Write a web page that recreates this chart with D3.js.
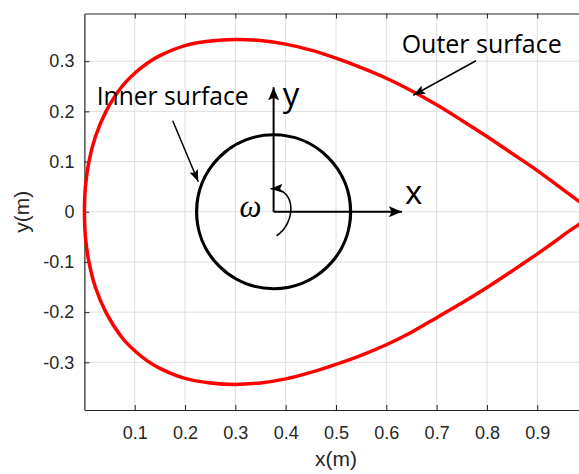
<!DOCTYPE html>
<html>
<head>
<meta charset="utf-8">
<script src="https://cdn.jsdelivr.net/npm/d3@7"></script>
<style>
  html, body { margin: 0; padding: 0; background: #fff; }
  svg { display: block; }
  .tick text { font-family: "Liberation Sans", Arial, sans-serif; font-size: 18px; fill: #262626; }
  .note { font-family: "Open Sans", sans-serif; fill: #000; }
</style>
</head>
<body>
<svg id="chart" width="579" height="474"></svg>
<script>
// axis ticks
const xTickValues = [0.1, 0.2, 0.3, 0.4, 0.5, 0.6, 0.7, 0.8, 0.9];
const xTickLabels = ['0.1', '0.2', '0.3', '0.4', '0.5', '0.6', '0.7', '0.8', '0.9'];
const yTickValues = [-0.3, -0.2, -0.1, 0, 0.1, 0.2, 0.3];
const yTickLabels = ['-0.3', '-0.2', '-0.1', '0', '0.1', '0.2', '0.3'];

// outer surface: upper branch left -> tip
const outerUpper = [
  [0.000, 0.000], [0.002, 0.050], [0.009, 0.100], [0.022, 0.150], [0.043, 0.200],
  [0.075, 0.250], [0.100, 0.276], [0.125, 0.296], [0.150, 0.311], [0.200, 0.331],
  [0.250, 0.340], [0.300, 0.343], [0.350, 0.341], [0.400, 0.334], [0.450, 0.322],
  [0.500, 0.306], [0.550, 0.287], [0.600, 0.266], [0.650, 0.241], [0.700, 0.213],
  [0.750, 0.182], [0.800, 0.150], [0.850, 0.116], [0.900, 0.082], [0.950, 0.045],
  [1.000, 0.008], [1.010, 0.000]
];
// lower branch tip -> left
const outerLower = [
  [1.000, -0.010], [0.950, -0.048], [0.900, -0.084], [0.850, -0.118], [0.800, -0.151],
  [0.750, -0.182], [0.700, -0.211], [0.650, -0.240], [0.600, -0.265], [0.550, -0.286],
  [0.500, -0.304], [0.450, -0.320], [0.400, -0.333], [0.350, -0.341], [0.300, -0.344],
  [0.250, -0.341], [0.200, -0.332], [0.150, -0.312], [0.125, -0.297], [0.100, -0.277],
  [0.075, -0.251], [0.043, -0.201], [0.022, -0.151], [0.009, -0.100], [0.002, -0.050],
  [0.000, 0.000]
];

// inner surface circle
const innerCenter = [0.376, 0];
const innerRadius = 0.153;

const svg = d3.select('#chart');
const plotLeft = 84.4, plotRight = 587.6, plotTop = 13.5, plotBottom = 410;

const x = d3.scaleLinear().domain([0, 1]).range([plotLeft, plotRight]);
const y = d3.scaleLinear().domain([-0.395, 0.395]).range([plotBottom, plotTop]);

const defs = svg.append('defs');

// arrow heads
function arrowMarker(id, len, wid) {
  defs.append('marker')
    .attr('id', id)
    .attr('markerUnits', 'userSpaceOnUse')
    .attr('markerWidth', len).attr('markerHeight', wid)
    .attr('refX', len).attr('refY', wid / 2)
    .attr('orient', 'auto')
    .append('path')
    .attr('d', `M0,0 L${len},${wid / 2} L0,${wid} L${len * 0.2},${wid / 2} Z`)
    .attr('fill', '#000');
}
arrowMarker('headBig', 13, 11);
arrowMarker('headSmall', 12, 9);

// grid
const grid = svg.append('g');
grid.selectAll('.gx').data(xTickValues).enter().append('line')
  .attr('x1', d => x(d)).attr('x2', d => x(d))
  .attr('y1', plotTop).attr('y2', plotBottom)
  .attr('stroke', '#dfdfdf').attr('stroke-width', 1);
grid.selectAll('.gy').data(yTickValues).enter().append('line')
  .attr('x1', plotLeft).attr('x2', plotRight)
  .attr('y1', d => y(d)).attr('y2', d => y(d))
  .attr('stroke', '#dfdfdf').attr('stroke-width', 1);

// axes
const axisColor = '#262626';
const xAxis = svg.append('g').attr('transform', `translate(0,${plotBottom})`)
  .call(d3.axisBottom(x).tickValues(xTickValues)
    .tickFormat((d, i) => xTickLabels[i])
    .tickSizeInner(-5).tickSizeOuter(0).tickPadding(16));
const topAxis = svg.append('g').attr('transform', `translate(0,${plotTop})`)
  .call(d3.axisTop(x).tickValues(xTickValues).tickFormat('')
    .tickSizeInner(-5).tickSizeOuter(0));
const yAxis = svg.append('g').attr('transform', `translate(${plotLeft},0)`)
  .call(d3.axisLeft(y).tickValues(yTickValues)
    .tickFormat((d, i) => yTickLabels[i])
    .tickSizeInner(-5).tickSizeOuter(0).tickPadding(10));
[xAxis, topAxis, yAxis].forEach(g => {
  g.selectAll('.domain').attr('stroke', axisColor).attr('stroke-width', 1.2);
  g.selectAll('.tick line').attr('stroke', axisColor).attr('stroke-width', 1);
});

svg.append('text')
  .attr('x', x(0.5)).attr('y', 465.5)
  .attr('text-anchor', 'middle')
  .style('font-family', '"Liberation Sans", Arial, sans-serif')
  .style('font-size', '21px').style('fill', axisColor)
  .text('x(m)');
svg.append('text')
  .attr('transform', `translate(29,${y(0)}) rotate(-90)`)
  .attr('text-anchor', 'middle')
  .style('font-family', '"Liberation Sans", Arial, sans-serif')
  .style('font-size', '21px').style('fill', axisColor)
  .text('y(m)');

// outer surface
const line = d3.line()
  .x(d => x(d[0])).y(d => y(d[1]))
  .curve(d3.curveCatmullRom.alpha(0.5));
svg.append('path')
  .datum(outerUpper.concat(outerLower.slice(1)))
  .attr('d', line)
  .attr('fill', 'none')
  .attr('stroke', '#ff0000')
  .attr('stroke-width', 3.5)
  .attr('stroke-linejoin', 'round');

// inner surface
svg.append('circle')
  .attr('cx', x(innerCenter[0])).attr('cy', y(innerCenter[1]))
  .attr('r', x(innerRadius) - x(0))
  .attr('fill', 'none')
  .attr('stroke', '#000')
  .attr('stroke-width', 3.2);

// body frame arrows
const cx = x(innerCenter[0]), cy = y(innerCenter[1]);
svg.append('line')
  .attr('x1', cx).attr('y1', cy).attr('x2', cx).attr('y2', y(0.248))
  .attr('stroke', '#000').attr('stroke-width', 2)
  .attr('marker-end', 'url(#headBig)');
svg.append('line')
  .attr('x1', cx).attr('y1', cy).attr('x2', x(0.631)).attr('y2', cy)
  .attr('stroke', '#000').attr('stroke-width', 2)
  .attr('marker-end', 'url(#headBig)');

svg.append('text').attr('class', 'note')
  .attr('x', x(0.394)).attr('y', y(0.211))
  .style('font-size', '33px').text('y');
svg.append('text').attr('class', 'note')
  .attr('x', x(0.637)).attr('y', y(0.015))
  .style('font-size', '33px').text('x');

// rotation
svg.append('path')
  .attr('transform', `translate(${cx},${cy})`)
  .attr('d', 'M3,24 C22,12 24,-24 -3,-23')
  .attr('fill', 'none')
  .attr('stroke', '#000').attr('stroke-width', 1.6)
  .attr('marker-end', 'url(#headSmall)');
svg.append('text')
  .attr('x', x(0.308)).attr('y', y(-0.01))
  .style('font-family', '"Liberation Serif", "DejaVu Serif", serif')
  .style('font-style', 'italic')
  .style('font-size', '31px')
  .text('ω');

// labels with pointers
svg.append('text').attr('class', 'note')
  .attr('x', x(0.0244)).attr('y', y(0.2126))
  .style('font-size', '25px')
  .attr('textLength', 152).attr('lengthAdjust', 'spacingAndGlyphs')
  .text('Inner surface');
svg.append('line')
  .attr('x1', x(0.1755)).attr('y1', y(0.1813))
  .attr('x2', x(0.2263)).attr('y2', y(0.0598))
  .attr('stroke', '#000').attr('stroke-width', 1.5)
  .attr('marker-end', 'url(#headSmall)');

svg.append('text').attr('class', 'note')
  .attr('x', x(0.6306)).attr('y', y(0.3155))
  .style('font-size', '25px')
  .attr('textLength', 160).attr('lengthAdjust', 'spacingAndGlyphs')
  .text('Outer surface');
svg.append('line')
  .attr('x1', x(0.7782)).attr('y1', y(0.3008))
  .attr('x2', x(0.6536)).attr('y2', y(0.2321))
  .attr('stroke', '#000').attr('stroke-width', 1.5)
  .attr('marker-end', 'url(#headSmall)');
</script>
</body>
</html>
